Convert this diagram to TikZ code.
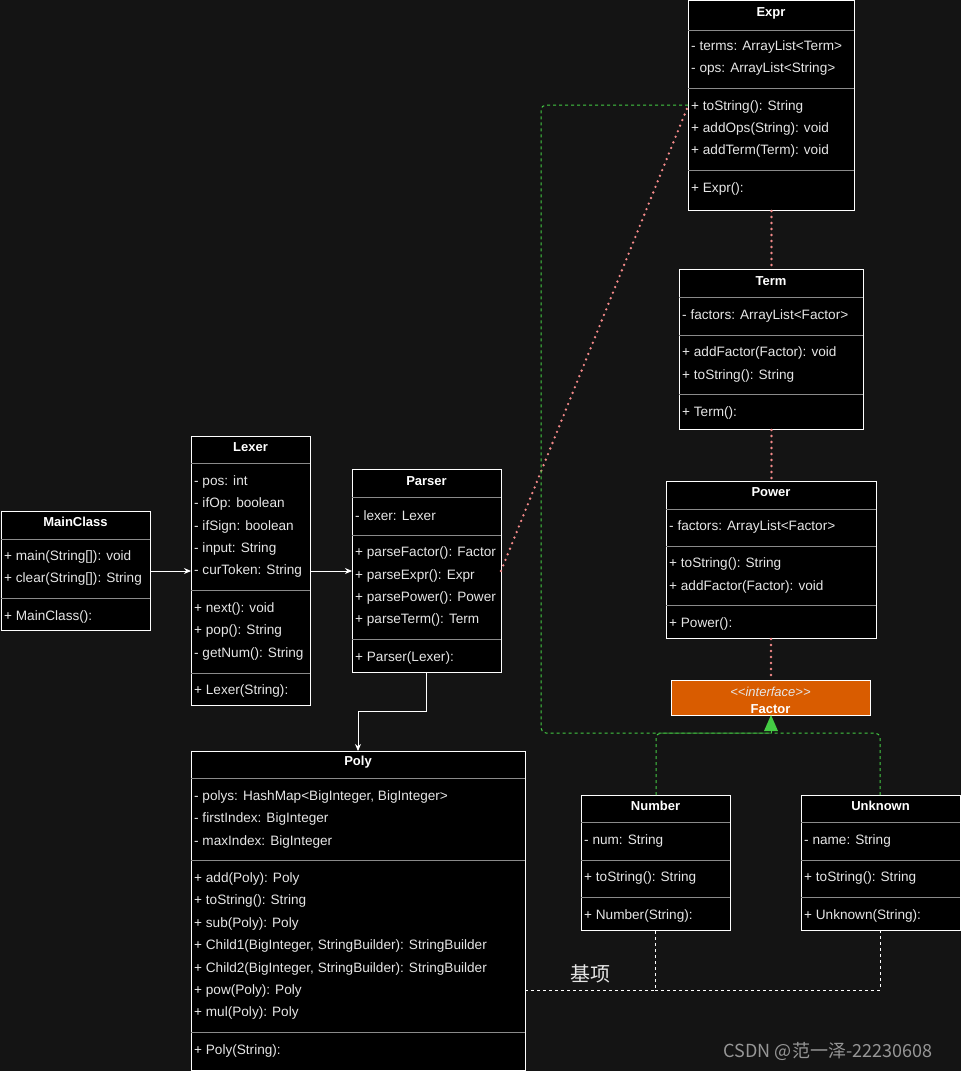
\documentclass[tikz,border=0pt]{standalone}
\usepackage{fontspec}
\setmainfont{Liberation Sans}
\newfontfamily\cjk{Noto Sans CJK SC}
\usetikzlibrary{arrows.meta}
\definecolor{bg}{HTML}{141414}
\definecolor{sep}{HTML}{8A8A8A}
\definecolor{txt}{HTML}{E6E6E6}
\definecolor{rel}{HTML}{F48A8A}
\definecolor{gr}{HTML}{44CC44}
\definecolor{orng}{HTML}{D95C00}
\tikzset{
 box/.style={draw=white,fill=black,line width=1pt,inner sep=0,anchor=north west},
 ttl/.style={text=white,font=\bfseries\fontsize{13}{13}\selectfont,inner sep=0},
 itm/.style={text=txt,font=\fontsize{13.6}{13}\selectfont,anchor=west,inner sep=0},
 sepl/.style={draw=sep,line width=0.8pt},
 dep/.style={rel,line width=2.6pt,line cap=round,dash pattern=on 0pt off 6pt},
 real/.style={gr,line width=1pt,dash pattern=on 3pt off 3pt,rounded corners=5pt},
 wd/.style={white,line width=0.9pt,dash pattern=on 3pt off 3pt},
 asc/.style={white,line width=0.9pt,-{Stealth[length=7pt,width=6pt]}},
}
\newcommand\umlc[7]{%
 \node[box,minimum width=#4-#2,minimum height=#5-#3] (#1) at (#2,#3) {};
 \node[ttl] (#1-t) at ({(#2+#4)/2},#6) {#7};}
\newcommand\sepat[3]{\draw[sepl] (#1,#3) -- (#2,#3);}
\newcommand\itm[4]{\node[itm] (#1) at (#2,#3) {#4};}
\begin{document}
\begin{tikzpicture}[x=1pt,y=-1pt]
\fill[bg] (0,0) rectangle (961,1071);
\useasboundingbox (0,0) rectangle (961,1071);

% Expr
\umlc{expr}{688}{0}{854}{210}{13}{Expr}
\sepat{688}{854}{30}\sepat{688}{854}{88}\sepat{688}{854}{170}
\itm{e1}{691}{47}{- terms: ArrayList<Term>}
\itm{e2}{691}{69}{- ops: ArrayList<String>}
\itm{e3}{691}{107}{+ toString(): String}
\itm{e4}{691}{129}{+ addOps(String): void}
\itm{e5}{691}{151}{+ addTerm(Term): void}
\itm{e6}{691}{189}{+ Expr():}

% Term
\umlc{term}{679}{269}{863}{429}{281}{Term}
\sepat{679}{863}{297}\sepat{679}{863}{335}\sepat{679}{863}{394}
\itm{t1}{682}{316}{- factors: ArrayList<Factor>}
\itm{t2}{682}{353}{+ addFactor(Factor): void}
\itm{t3}{682}{376}{+ toString(): String}
\itm{t4}{682}{413}{+ Term():}

% Power
\umlc{power}{666}{481}{876}{638}{492}{Power}
\sepat{666}{876}{509}\sepat{666}{876}{546}\sepat{666}{876}{605}
\itm{p1}{669}{527}{- factors: ArrayList<Factor>}
\itm{p2}{669}{564}{+ toString(): String}
\itm{p3}{669}{587}{+ addFactor(Factor): void}
\itm{p4}{669}{624}{+ Power():}

% Factor
\node[draw=white,fill=orng,line width=1pt,minimum width=199,minimum height=35,anchor=north west,inner sep=0] (factor) at (671,680) {};
\node[text=txt,font=\itshape\fontsize{13}{13}\selectfont,inner sep=0] (f1) at (770.5,692) {<{}<interface>{}>};
\node[ttl] (f2) at (770.5,709) {Factor};

% Lexer
\umlc{lexer}{191}{436}{310}{705}{447}{Lexer}
\sepat{191}{310}{463}\sepat{191}{310}{590}\sepat{191}{310}{673}
\itm{l1}{194}{482}{- pos: int}
\itm{l2}{194}{504}{- ifOp: boolean}
\itm{l3}{194}{527}{- ifSign: boolean}
\itm{l4}{194}{549}{- input: String}
\itm{l5}{194}{571}{- curToken: String}
\itm{l6}{194}{609}{+ next(): void}
\itm{l7}{194}{631}{+ pop(): String}
\itm{l8}{194}{654}{- getNum(): String}
\itm{l9}{194}{691}{+ Lexer(String):}

% Parser
\umlc{parser}{352}{469}{501}{672}{481}{Parser}
\sepat{352}{501}{497}\sepat{352}{501}{535}\sepat{352}{501}{639}
\itm{q1}{355}{516}{- lexer: Lexer}
\itm{q2}{355}{553}{+ parseFactor(): Factor}
\itm{q3}{355}{576}{+ parseExpr(): Expr}
\itm{q4}{355}{598}{+ parsePower(): Power}
\itm{q5}{355}{620}{+ parseTerm(): Term}
\itm{q6}{355}{658}{+ Parser(Lexer):}

% MainClass
\umlc{main}{1}{511}{150}{630}{522}{MainClass}
\sepat{1}{150}{539}\sepat{1}{150}{598}
\itm{m1}{4}{557}{+ main(String[]): void}
\itm{m2}{4}{579}{+ clear(String[]): String}
\itm{m3}{4}{617}{+ MainClass():}

% Poly
\umlc{poly}{191}{751}{525}{1070}{762}{Poly}
\sepat{191}{525}{778}\sepat{191}{525}{860}\sepat{191}{525}{1032}
\itm{o1}{194}{797}{- polys: HashMap<BigInteger, BigInteger>}
\itm{o2}{194}{819}{- firstIndex: BigInteger}
\itm{o3}{194}{842}{- maxIndex: BigInteger}
\itm{o4}{194}{879}{+ add(Poly): Poly}
\itm{o5}{194}{901}{+ toString(): String}
\itm{o6}{194}{924}{+ sub(Poly): Poly}
\itm{o7}{194}{946}{+ Child1(BigInteger, StringBuilder): StringBuilder}
\itm{o8}{194}{969}{+ Child2(BigInteger, StringBuilder): StringBuilder}
\itm{o9}{194}{991}{+ pow(Poly): Poly}
\itm{o10}{194}{1013}{+ mul(Poly): Poly}
\itm{o11}{194}{1051}{+ Poly(String):}

% Number
\umlc{number}{581}{795}{730}{930}{806}{Number}
\sepat{581}{730}{822}\sepat{581}{730}{860}\sepat{581}{730}{897}
\itm{n1}{584}{841}{- num: String}
\itm{n2}{584}{878}{+ toString(): String}
\itm{n3}{584}{916}{+ Number(String):}

% Unknown
\umlc{unknown}{801}{795}{960}{930}{806}{Unknown}
\sepat{801}{960}{822}\sepat{801}{960}{860}\sepat{801}{960}{897}
\itm{u1}{804}{841}{- name: String}
\itm{u2}{804}{878}{+ toString(): String}
\itm{u3}{804}{916}{+ Unknown(String):}

\coordinate (j) at (771,733);
\coordinate (pl) at (525,990);

% associations
\draw[asc] (main.east |- 0,571) -- (lexer.west |- 0,571);
\draw[asc] (lexer.east |- 0,571) -- (parser.west |- 0,571);
\draw[asc] (426,672) -- (426,711) -- (358,711) -- (358,751);

% dependencies
\draw[dep] (501,571) -- (688,106);
\draw[dep] (expr.south) -- (term.north);
\draw[dep] (term.south) -- (term.south |- power.north);
\draw[dep] (power.south -| 771,0) -- (factor.north -| 771,0);

% realization
\draw[real] (688,105) -- (541,105) -- (541,733) -- (j);
\draw[real] (656,795) -- (656,733) -- (j);
\draw[real] (880,795) -- (880,733) -- (j);
\fill[gr] (771,715) -- (764,731) -- (778,731) -- cycle;
\draw[gr,line width=1pt] (j) -- (771,730);

% white dashed
\draw[wd] (pl) -- (655,990) -- (655,930);
\draw[wd] (655,990) -- (880,990) -- (880,930);
\node[text=txt,font=\cjk\fontsize{20}{20}\selectfont,inner sep=0] (lbl) at (590,974) {基项};

\node[text=sep!90!white,font=\cjk\fontsize{18}{18}\selectfont,inner sep=0] (wm) at (828,1051) {CSDN @范一泽-22230608};
\end{tikzpicture}
\end{document}
